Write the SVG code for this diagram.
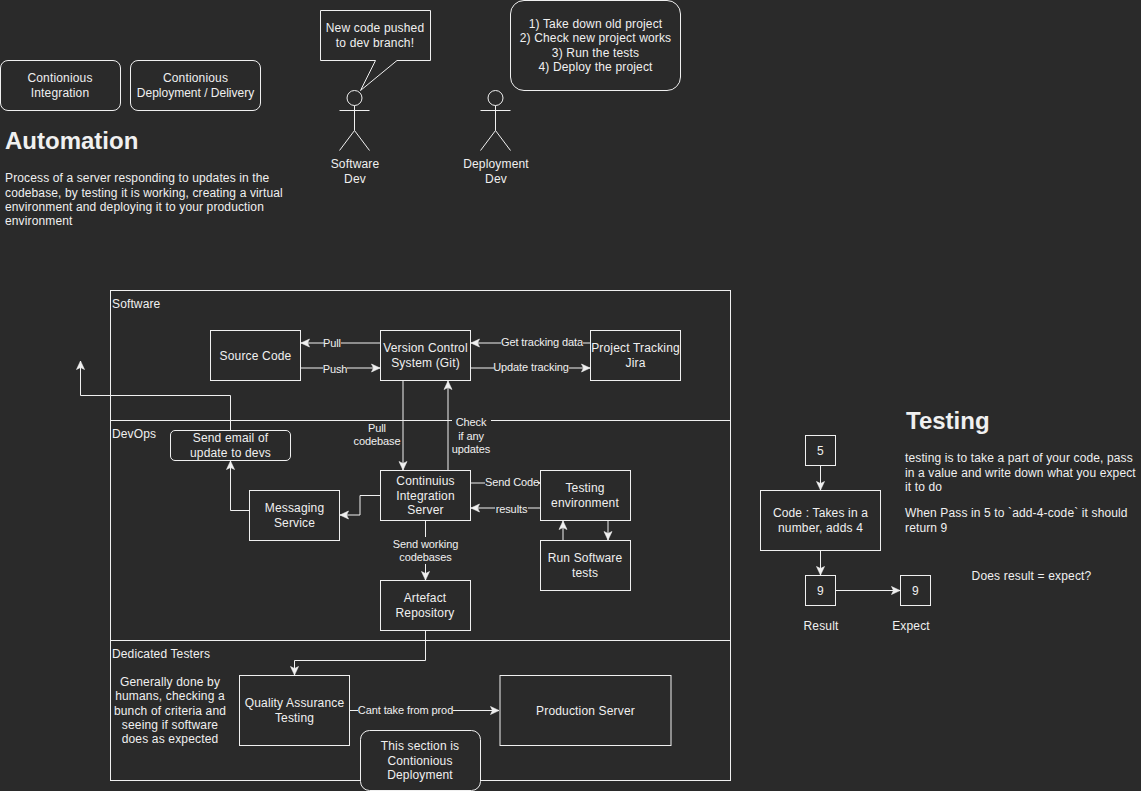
<svg xmlns="http://www.w3.org/2000/svg" width="1141" height="791" viewBox="0 0 1141 791">
<style>
text{font-family:"Liberation Sans",Arial,Helvetica,sans-serif;font-size:12px;fill:#f0f0f0;letter-spacing:.13px}
.m{text-anchor:middle;letter-spacing:.16px}
.w{letter-spacing:0}
.e{font-size:11px;text-anchor:middle;letter-spacing:-.1px}
.h{font-size:24px;font-weight:bold;letter-spacing:0}
.b{fill:#2a2a2a;stroke:#f0f0f0;stroke-width:1}
.c{fill:none;stroke:#f0f0f0;stroke-width:1;marker-end:url(#arrow)}
.p{fill:none;stroke:#f0f0f0;stroke-width:1}
.g{fill:#2a2a2a;stroke:none}
</style>
<defs>
<marker id="arrow" markerUnits="userSpaceOnUse" markerWidth="10" markerHeight="10" refX="9" refY="5" orient="auto">
<path d="M9 5L0.5 1L2.5 5L0.5 9Z" fill="#f0f0f0" stroke="#f0f0f0" stroke-width="0.6"/>
</marker>
</defs>
<rect width="1141" height="791" fill="#2a2a2a"/>

<g id="lane-software"><rect class="b" x="110.5" y="290.5" width="620" height="130"/><text x="112" y="308">Software</text></g>
<g id="lane-devops"><rect class="b" x="110.5" y="420.5" width="620" height="220"/><text x="112" y="438">DevOps</text></g>
<g id="lane-testers"><rect class="b" x="110.5" y="640.5" width="620" height="140"/><text x="112" y="658">Dedicated Testers</text></g>

<g id="connectors">
<path class="c" d="M380 343H301"/>
<path class="c" d="M300 368H380"/>
<path class="c" d="M590 343H471"/>
<path class="c" d="M470 368H590"/>
<path class="c" d="M403 380V470"/>
<path class="c" d="M448 470V381"/>
<path class="c" d="M470 483H540"/>
<path class="c" d="M540 508H471"/>
<path class="c" d="M608 520V540"/>
<path class="c" d="M563 540V521"/>
<path class="c" d="M380.5 495.5H360V515H340"/>
<path class="c" d="M425.5 520V580"/>
<path class="c" d="M425.5 630V660.5H294.5V675"/>
<path class="c" d="M249.5 510.5H230.5V461"/>
<path class="c" d="M230.5 430V395.5H80.5V361"/>
<path class="c" d="M350 710.5H499"/>
<path class="c" d="M820.5 465V490"/>
<path class="c" d="M820.5 550V575"/>
<path class="c" d="M835 590.5H900"/>
<g id="connector-labels">
<rect class="g" x="324" y="337" width="17" height="13"/><text class="e" x="332" y="347">Pull</text>
<rect class="g" x="323" y="362" width="24" height="13"/><text class="e" x="335" y="373">Push</text>
<rect class="g" x="501" y="336" width="82" height="13"/><text class="e" x="542" y="346">Get tracking data</text>
<rect class="g" x="494" y="361" width="75" height="13"/><text class="e" x="531" y="371">Update tracking</text>
<rect class="g" x="353" y="423" width="49" height="26"/><text class="e" x="377" y="432">Pull</text><text class="e" x="377" y="445">codebase</text>
<rect class="g" x="452" y="416" width="39" height="42"/><text class="e" x="471" y="426">Check</text><text class="e" x="471" y="440">if any</text><text class="e" x="471" y="453">updates</text>
<rect class="g" x="485" y="476" width="53" height="13"/><text class="e" x="512" y="486">Send Code</text>
<rect class="g" x="495" y="502" width="33" height="13"/><text class="e" x="511.5" y="513">results</text>
<rect class="g" x="392" y="537" width="67" height="27"/><text class="e" x="425.5" y="548">Send working</text><text class="e" x="425.5" y="561">codebases</text>
<rect class="g" x="358" y="704" width="95" height="13"/><text class="e" x="405.5" y="714">Cant take from prod</text>
</g>
</g>

<g id="node-ci"><rect class="b" x="0.5" y="60.5" width="120" height="50" rx="7.5"/><text class="m" x="60" y="82">Contionious</text><text class="m" x="60" y="97">Integration</text></g>
<g id="node-cd"><rect class="b" x="130.5" y="60.5" width="130" height="50" rx="7.5"/><text class="m" x="195.5" y="82">Contionious</text><text class="m w" x="195.5" y="97">Deployment / Delivery</text></g>
<g id="automation-text"><text class="h" x="5" y="149">Automation</text>
<text x="5" y="182">Process of a server responding to updates in the</text>
<text x="5" y="197">codebase, by testing it is working, creating a virtual</text>
<text x="5" y="211">environment and deploying it to your production</text>
<text x="5" y="225">environment</text></g>

<g id="actor-software-dev"><circle class="p" cx="354.5" cy="98" r="7.5"/><path class="p" d="M354.5 105.5V130.5M339.5 110.5H369.5M339.5 150.5L354.5 130.5L369.5 150.5"/><text class="m" x="355" y="168">Software</text><text class="m" x="355" y="183">Dev</text></g>
<g id="callout-push"><path class="b" d="M320.5 10.5H430.5V60.5H397L360.5 90.5L375.5 60.5H320.5Z"/><text class="m" x="375" y="32">New code pushed</text><text class="m" x="375" y="47">to dev branch!</text></g>
<g id="actor-deployment-dev"><circle class="p" cx="495.5" cy="98" r="7.5"/><path class="p" d="M495.5 105.5V130.5M480.5 110.5H510.5M480.5 150.5L495.5 130.5L510.5 150.5"/><text class="m" x="496" y="168">Deployment</text><text class="m" x="496" y="183">Dev</text></g>
<g id="callout-steps"><rect class="b" x="510.5" y="0.5" width="170" height="90" rx="13.5"/><text class="m" x="595.5" y="28">1) Take down old project</text><text class="m" x="595.5" y="42">2) Check new project works</text><text class="m" x="595.5" y="57">3) Run the tests</text><text class="m" x="595.5" y="71">4) Deploy the project</text></g>

<g id="node-source"><rect class="b" x="210.5" y="330.5" width="90" height="50"/><text class="m" x="255.5" y="360">Source Code</text></g>
<g id="node-vcs"><rect class="b" x="380.5" y="330.5" width="90" height="50"/><text class="m" x="425.5" y="352">Version Control</text><text class="m" x="425.5" y="367">System (Git)</text></g>
<g id="node-jira"><rect class="b" x="590.5" y="330.5" width="90" height="50"/><text class="m" x="635.5" y="352">Project Tracking</text><text class="m" x="635.5" y="367">Jira</text></g>
<g id="node-email"><rect class="b" x="170.5" y="430.5" width="120" height="30" rx="4.5"/><text class="m" x="230.5" y="442">Send email of</text><text class="m" x="230.5" y="457">update to devs</text></g>
<g id="node-server"><rect class="b" x="380.5" y="470.5" width="90" height="50"/><text class="m" x="425.5" y="485">Continuius</text><text class="m" x="425.5" y="500">Integration</text><text class="m" x="425.5" y="514">Server</text></g>
<g id="node-testing"><rect class="b" x="540.5" y="470.5" width="90" height="50"/><text class="m" x="585" y="492">Testing</text><text class="m" x="585" y="507">environment</text></g>
<g id="node-run"><rect class="b" x="540.5" y="540.5" width="90" height="50"/><text class="m" x="585" y="562">Run Software</text><text class="m" x="585" y="577">tests</text></g>
<g id="node-messaging"><rect class="b" x="249.5" y="490.5" width="90" height="50"/><text class="m" x="294.5" y="512">Messaging</text><text class="m" x="294.5" y="527">Service</text></g>
<g id="node-artefact"><rect class="b" x="380.5" y="580.5" width="90" height="50"/><text class="m" x="425" y="602">Artefact</text><text class="m" x="425" y="617">Repository</text></g>
<g id="note-humans"><text class="m" x="170" y="686">Generally done by</text><text class="m" x="170" y="700">humans, checking a</text><text class="m" x="170" y="715">bunch of criteria and</text><text class="m" x="170" y="729">seeing if software</text><text class="m" x="170" y="743">does as expected</text></g>
<g id="node-qa"><rect class="b" x="239.5" y="675.5" width="110" height="70"/><text class="m" x="294.5" y="707">Quality Assurance</text><text class="m" x="294.5" y="722">Testing</text></g>
<g id="node-prod"><rect class="b" x="500" y="675.5" width="171" height="70"/><text class="m" x="585.5" y="715">Production Server</text></g>
<g id="node-section"><rect class="b" x="360.5" y="730.5" width="120" height="60" rx="9"/><text class="m" x="420" y="750">This section is</text><text class="m" x="420" y="765">Contionious</text><text class="m" x="420" y="779">Deployment</text></g>

<g id="testing-text"><text class="h" x="906" y="429">Testing</text>
<text x="905" y="462">testing is to take a part of your code, pass</text>
<text x="905" y="477">in a value and write down what you expect</text>
<text x="905" y="491">it to do</text>
<text x="905" y="517">When Pass in 5 to `add-4-code` it should</text>
<text x="905" y="532">return 9</text>
<text class="m" x="1031.5" y="580">Does result = expect?</text></g>
<g id="node-five"><rect class="b" x="805.5" y="435.5" width="30" height="30"/><text class="m" x="820.5" y="455">5</text></g>
<g id="node-code"><rect class="b" x="760.5" y="490.5" width="120" height="60"/><text class="m" x="820.5" y="517">Code : Takes in a</text><text class="m" x="820.5" y="532">number, adds 4</text></g>
<g id="node-result"><rect class="b" x="805.5" y="575.5" width="30" height="30"/><text class="m" x="820.5" y="595">9</text><text class="m" x="821" y="630">Result</text></g>
<g id="node-expect"><rect class="b" x="900.5" y="575.5" width="30" height="30"/><text class="m" x="915.5" y="595">9</text><text class="m" x="911" y="630">Expect</text></g>
</svg>
